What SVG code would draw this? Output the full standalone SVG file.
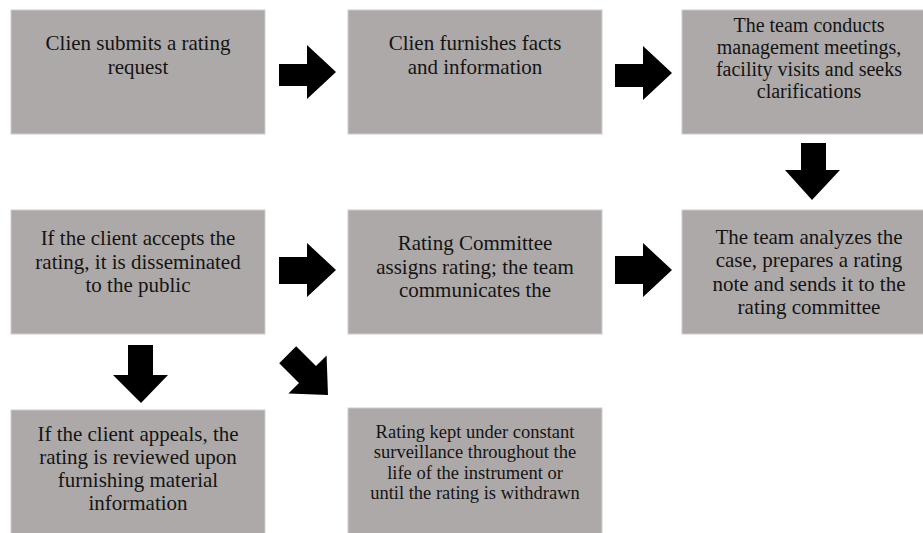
<svg xmlns="http://www.w3.org/2000/svg" width="923" height="533" viewBox="0 0 923 533">
<style>
.box{fill:#ada9a8;stroke:#cfcccb;stroke-width:1}
.t{font-family:"Liberation Serif","Times New Roman",serif;font-size:21px;fill:#141414;text-anchor:middle}
.m{font-size:20px}
.s{font-size:18.5px}
.arr{fill:#000}
</style>
<rect width="923" height="533" fill="#fff"/>
<g id="n1"><rect class="box" x="11" y="10" width="254" height="124"/>
<text class="t" x="138" y="50">Clien submits a rating</text>
<text class="t" x="138" y="74">request</text></g>
<g id="n2"><rect class="box" x="348" y="10" width="254" height="124"/>
<text class="t" x="475" y="50">Clien furnishes facts</text>
<text class="t" x="475" y="74">and information</text></g>
<g id="n3"><rect class="box" x="682" y="10" width="254" height="124"/>
<text class="t m" x="809" y="32">The team conducts</text>
<text class="t m" x="809" y="54">management meetings,</text>
<text class="t m" x="809" y="76">facility visits and seeks</text>
<text class="t m" x="809" y="98">clarifications</text></g>
<g id="n4"><rect class="box" x="11" y="210" width="254" height="124"/>
<text class="t" x="138" y="245">If the client accepts the</text>
<text class="t" x="138" y="269">rating, it is disseminated</text>
<text class="t" x="138" y="292">to the public</text></g>
<g id="n5"><rect class="box" x="348" y="210" width="254" height="124"/>
<text class="t" x="475" y="250">Rating Committee</text>
<text class="t" x="475" y="274">assigns rating; the team</text>
<text class="t" x="475" y="297">communicates the</text></g>
<g id="n6"><rect class="box" x="682" y="210" width="254" height="124"/>
<text class="t" x="809" y="244">The team analyzes the</text>
<text class="t" x="809" y="267">case, prepares a rating</text>
<text class="t" x="809" y="291">note and sends it to the</text>
<text class="t" x="809" y="314">rating committee</text></g>
<g id="n7"><rect class="box" x="11" y="410" width="254" height="130"/>
<text class="t" x="138" y="441">If the client appeals, the</text>
<text class="t" x="138" y="464">rating is reviewed upon</text>
<text class="t" x="138" y="487">furnishing material</text>
<text class="t" x="138" y="510">information</text></g>
<g id="n8"><rect class="box" x="348" y="408" width="254" height="130"/>
<text class="t s" x="475" y="438">Rating kept under constant</text>
<text class="t s" x="475" y="458">surveillance throughout the</text>
<text class="t s" x="475" y="479">life of the instrument or</text>
<text class="t s" x="475" y="499">until the rating is withdrawn</text></g>
<g id="connectors">
<path class="arr" d="M279,64 H307 V45 L336,72 L307,99 V86 H279 Z"/>
<path class="arr" d="M615,64 H643 V46 L672,73 L643,100 V87 H615 Z"/>
<path class="arr" d="M801,143 H826 V170 H840 L812,200 L785,170 H801 Z"/>
<path class="arr" d="M672,256 H644 V243 L615,270 L644,297 V284 H672 Z" transform="rotate(180 643.5 270)"/>
<path class="arr" d="M336,256 H308 V243 L279,270 L308,297 V283 H336 Z" transform="rotate(180 307.5 270)"/>
<path class="arr" d="M128,345 H153 V375 H168 L141,403 L113,375 H128 Z"/>
<path class="arr" d="M-57,-12 H-29 V-27 L0,0 L-29,27 V12 H-57 Z" transform="translate(328,395) rotate(45)"/>
</g>
</svg>
